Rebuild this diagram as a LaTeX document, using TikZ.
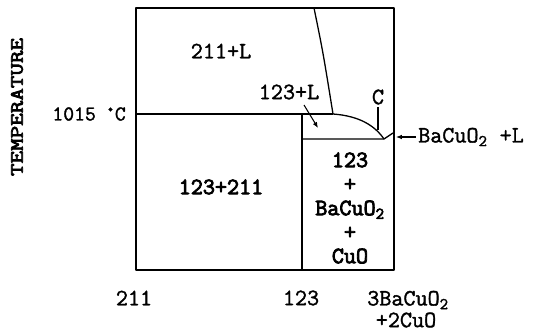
\documentclass[tikz,border=0pt]{standalone}
\usepackage{fontspec}
\newfontfamily\plaintt{Latin Modern Mono}[FakeBold=1.5]
\newfontfamily\heavytt{Latin Modern Mono}[FakeBold=3.5]
\usetikzlibrary{arrows.meta}
\begin{document}
\begin{tikzpicture}[
  x=0.03cm, y=-0.03cm, font=\plaintt\fontsize{20}{22}\selectfont,
  bnd/.style={line width=1.1pt, line join=round},
  lbl/.style={inner sep=0pt},
  phase/.style={inner sep=0pt, align=center, font=\heavytt\fontsize{20}{20.5}\selectfont},
  ptr/.style={line width=0.9pt, -{Latex[length=5pt, width=4pt]}}
]
\useasboundingbox (0,0) rectangle (533,333);
% ---------------- frame and phase boundaries ------------------------------
\coordinate (liq) at (333,114);
\draw[bnd] (136,8) rectangle (394,270);
\draw[bnd] (136,114) -- (liq);
\draw[bnd] (314,8) .. controls (323,52) .. (liq);
\draw[bnd] (302,114) -- (302,270);
\draw[bnd] (302,139) -- (384,139) -- (393,133);
\draw[bnd] (liq) .. controls (360,116) and (375,126) .. (384,139);
% ---------------- phase fields --------------------------------------------
\node[lbl] (t211L) at (221,51) {211+L};
\node[phase] (t123211) at (221,187) {123+211};
\node[phase] (tmix) at (350,208) {123\\+\\BaCuO\textsubscript{2}\\+\\CuO};
% ---------------- labels with pointers ------------------------------------
\node[lbl] (t123L) at (289,92) {123+L};
\coordinate (a123L) at (304,105);
\coordinate (p123L) at (318,128);
\draw[ptr] (a123L) -- (p123L);
\node[lbl] (tC) at (378,97) {C};
\coordinate (pC) at (378,130);
\draw[line width=0.9pt] ([yshift=-2pt]tC.south) -- (pC);
\node[lbl, anchor=west] (tBaL) at (418,137) {BaCuO\textsubscript{2} +L};
\coordinate (pBa) at (396,137);
\draw[ptr] ([xshift=-2pt]tBaL.west) -- (pBa);
% ---------------- axes ----------------------------------------------------
\node[lbl, anchor=east, font=\plaintt\fontsize{18}{20}\selectfont] (t1015) at (126,114) {1015 \textsuperscript{\textbullet}C};
\node[lbl, rotate=90, font=\heavytt\fontsize{16}{18}\selectfont] (tTemp) at (17,107) {\scalebox{1.3}[1]{TEMPERATURE}};
\node[lbl] (x211) at (134,298) {211};
\node[lbl] (x123) at (301,298) {123};
\node[lbl] (x3Ba) at (408,300) {3BaCuO\textsubscript{2}};
\node[lbl] (x2Cu) at (406,320) {+2CuO};
\end{tikzpicture}
\end{document}
